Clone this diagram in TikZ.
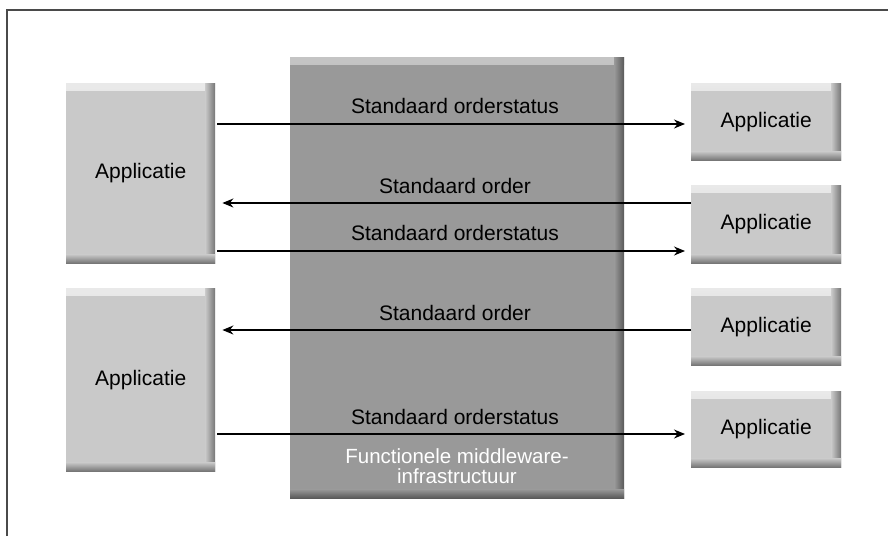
\documentclass[tikz,border=0pt]{standalone}
\usepackage{fontspec}
\setmainfont{Liberation Sans}
\usetikzlibrary{arrows.meta}
\definecolor{appfill}{HTML}{C9C9C9}
\definecolor{appdark}{HTML}{757575}
\definecolor{midfill}{HTML}{999999}
\definecolor{middark}{HTML}{585858}
\definecolor{midlight}{HTML}{C4C4C4}
\definecolor{framecol}{HTML}{4A4A4A}
\tikzset{
  bevel/.style n args={3}{
    path picture={
      \shade[top color=#3, bottom color=#1]
        (path picture bounding box.north west) rectangle ([yshift=-7pt]path picture bounding box.north east);
      \shade[left color=#1, right color=#2]
        ([xshift=-10pt]path picture bounding box.north east) rectangle (path picture bounding box.south east);
      \shade[top color=#1, bottom color=#2]
        ([yshift=9pt]path picture bounding box.south west) rectangle (path picture bounding box.south east);
    }},
  appbox/.style={rectangle, anchor=north west, inner sep=0pt, fill=appfill,
    bevel={appfill}{appdark}{white!60!appfill},
    font=\fontsize{21}{23}\selectfont},
  midbox/.style={rectangle, anchor=north west, inner sep=0pt, fill=midfill,
    bevel={midfill}{middark}{midlight}},
  lbl/.style={font=\fontsize{21}{23}\selectfont, inner sep=0pt},
  arr/.style={line width=1.3pt, -{Stealth[length=11pt,width=9pt]}},
}
\begin{document}
\begin{tikzpicture}[x=1pt,y=-1pt]
\useasboundingbox (0,0) rectangle (888,536);
\fill[white] (0,0) rectangle (888,536);
% frame (top and left edges)
\draw[framecol, line width=1.6pt] (7,536) -- (7,10) -- (888,10);

% middleware box
\node[midbox, minimum width=334pt, minimum height=441pt] (M) at (290,57) {};

% left applications
\node[appbox, minimum width=149pt, minimum height=180pt] (L1) at (66,83) {Applicatie};
\node[appbox, minimum width=149pt, minimum height=183pt] (L2) at (66,288) {Applicatie};

% right applications
\node[appbox, minimum width=150pt, minimum height=77pt] (R1) at (691,83) {Applicatie};
\node[appbox, minimum width=150pt, minimum height=78pt] (R2) at (691,185) {Applicatie};
\node[appbox, minimum width=150pt, minimum height=77pt] (R3) at (691,288) {Applicatie};
\node[appbox, minimum width=150pt, minimum height=76pt] (R4) at (691,391) {Applicatie};

% arrow heights
\coordinate (y1) at (0,124);
\coordinate (y2) at (0,203);
\coordinate (y3) at (0,251);
\coordinate (y4) at (0,330);
\coordinate (y5) at (0,434);

\draw[arr, shorten <=2pt, shorten >=6pt] (L1.east |- y1) -- (R1.west |- y1);
\draw[arr, shorten <=0pt, shorten >=7pt] (R2.west |- y2) -- (L1.east |- y2);
\draw[arr, shorten <=2pt, shorten >=6pt] (L1.east |- y3) -- (R2.west |- y3);
\draw[arr, shorten <=0pt, shorten >=7pt] (R3.west |- y4) -- (L2.east |- y4);
\draw[arr, shorten <=2pt, shorten >=6pt] (L2.east |- y5) -- (R4.west |- y5);

% labels
\node[lbl] (t1) at (455,106) {Standaard orderstatus};
\node[lbl] (t2) at (455,186) {Standaard order};
\node[lbl] (t3) at (455,233) {Standaard orderstatus};
\node[lbl] (t4) at (455,313) {Standaard order};
\node[lbl] (t5) at (455,417) {Standaard orderstatus};
\node[lbl, text=white, align=center, font=\fontsize{20.5}{19.5}\selectfont] (t6) at (457,466)
  {Functionele middleware-\\infrastructuur};
\end{tikzpicture}
\end{document}
